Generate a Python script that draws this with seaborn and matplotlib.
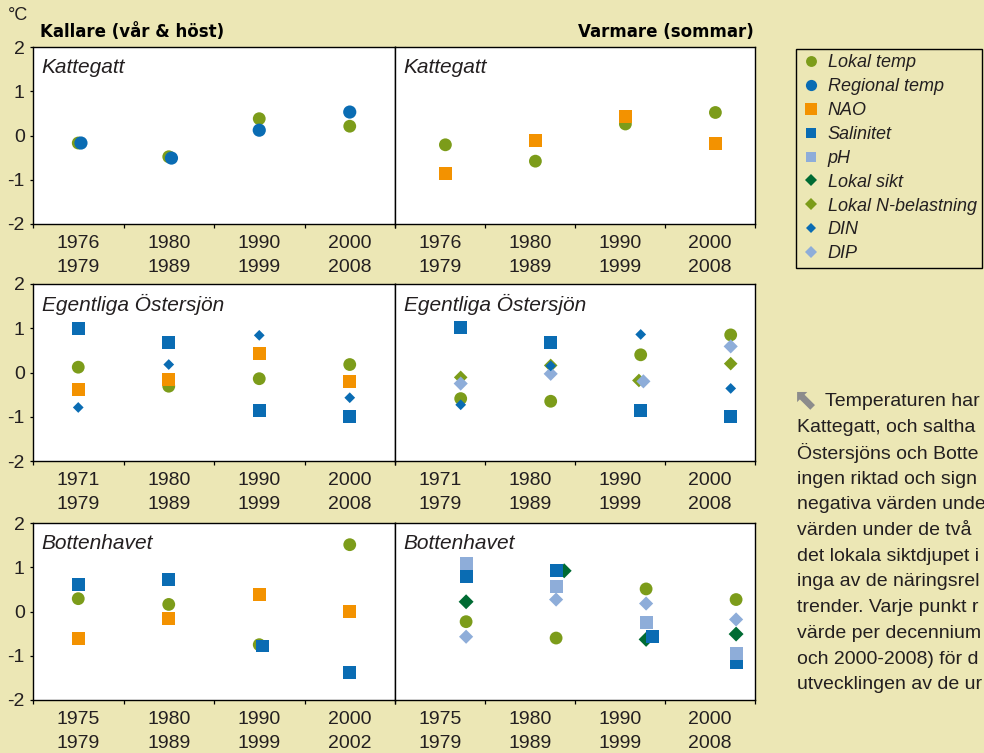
import numpy as np
import pandas as pd
import matplotlib
matplotlib.use("Agg")
import matplotlib.pyplot as plt
from matplotlib.lines import Line2D
import seaborn as sns

# ------------------------------------------------------------------
# data
# ------------------------------------------------------------------
KAT_PERIODS = ["1976\n1979", "1980\n1989", "1990\n1999", "2000\n2008"]
EGO_PERIODS = ["1971\n1979", "1980\n1989", "1990\n1999", "2000\n2008"]
BOT_KALL_PERIODS = ["1975\n1979", "1980\n1989", "1990\n1999", "2000\n2002"]
BOT_VARM_PERIODS = ["1975\n1979", "1980\n1989", "1990\n1999", "2000\n2008"]

# Kattegatt, kallare
KAT_KALL_LOKAL_TEMP = [-0.17, -0.48, 0.38, 0.21]
KAT_KALL_REGIONAL_TEMP = [-0.17, -0.51, 0.12, 0.53]
# Kattegatt, varmare
KAT_VARM_LOKAL_TEMP = [-0.21, -0.58, 0.26, 0.52]
KAT_VARM_NAO = [-0.85, -0.11, 0.44, -0.17]
# Egentliga Östersjön, kallare
EGO_KALL_LOKAL_TEMP = [0.12, -0.31, -0.14, 0.18]
EGO_KALL_NAO = [-0.38, -0.16, 0.42, -0.21]
EGO_KALL_SALINITET = [0.99, 0.68, -0.86, -0.99]
EGO_KALL_DIN = [-0.79, 0.18, 0.84, -0.57]
# Egentliga Östersjön, varmare
EGO_VARM_LOKAL_TEMP = [-0.59, -0.65, 0.40, 0.85]
EGO_VARM_SALINITET = [1.02, 0.68, -0.86, -0.99]
EGO_VARM_N_BELASTNING = [-0.11, 0.16, -0.18, 0.20]
EGO_VARM_DIN = [-0.73, 0.15, 0.86, -0.36]
EGO_VARM_DIP = [-0.25, -0.03, -0.20, 0.59]
# Bottenhavet, kallare
BOT_KALL_LOKAL_TEMP = [0.29, 0.16, -0.75, 1.51]
BOT_KALL_NAO = [-0.60, -0.15, 0.39, 0.00]
BOT_KALL_SALINITET = [0.61, 0.72, -0.78, -1.38]
# Bottenhavet, varmare
BOT_VARM_LOKAL_TEMP = [-0.23, -0.60, 0.51, 0.27]
BOT_VARM_SALINITET = [0.80, 0.93, -0.57, -1.15]
BOT_VARM_PH = [1.08, 0.57, -0.24, -0.94]
BOT_VARM_LOKAL_SIKT = [0.22, 0.92, -0.63, -0.51]
BOT_VARM_DIP = [-0.57, 0.27, 0.18, -0.18]

# caption on the right, cut by the page edge in the original
INFO_LINES = [
    "Temperaturen har",
    "Kattegatt, och saltha",
    "Östersjöns och Botte",
    "ingen riktad och sign",
    "negativa värden unde",
    "värden under de två",
    "det lokala siktdjupet i",
    "inga av de näringsrel",
    "trender. Varje punkt r",
    "värde per decennium",
    "och 2000-2008) för d",
    "utvecklingen av de ur",
]

# ------------------------------------------------------------------
# styles
# ------------------------------------------------------------------
BG = "#ECE7B5"
TXT = "#231F20"
GREEN = "#7C9C1A"
BLUE = "#0A6CB3"
ORANGE = "#F39200"
LIGHTBLUE = "#8EADD9"
DARKGREEN = "#006B33"

LEGEND_ORDER = ["Lokal temp", "Regional temp", "NAO", "Salinitet", "pH",
                "Lokal sikt", "Lokal N-belastning", "DIN", "DIP"]
# bottom -> top
DRAW_ORDER = ["Lokal temp", "Regional temp", "NAO", "Lokal sikt", "Lokal N-belastning",
              "Salinitet", "pH", "DIP", "DIN"]
COLORS = {"Lokal temp": GREEN, "Regional temp": BLUE, "NAO": ORANGE, "Salinitet": BLUE,
          "pH": LIGHTBLUE, "Lokal sikt": DARKGREEN, "Lokal N-belastning": GREEN,
          "DIN": BLUE, "DIP": LIGHTBLUE}
MARKERS = {"Lokal temp": "o", "Regional temp": "o", "NAO": "s", "Salinitet": "s", "pH": "s",
           "Lokal sikt": "D", "Lokal N-belastning": "D", "DIN": "D", "DIP": "D"}
SIZES = {"Lokal temp": 85, "Regional temp": 90, "NAO": 88, "Salinitet": 86, "pH": 86,
         "Lokal sikt": 58, "Lokal N-belastning": 48, "DIN": 30, "DIP": 52}

plt.rcParams["font.family"] = ["Liberation Sans", "DejaVu Sans"]
plt.rcParams["axes.unicode_minus"] = False
plt.rcParams["text.color"] = TXT

W, H = 984, 753
fig = plt.figure(figsize=(W / 100, H / 100), dpi=100, facecolor=BG)

COL_X = [(33, 362), (395, 360)]
ROW_TOP = [47, 284, 523]
AX_H = 177

# (row, col, title, periods, series, x shift, nudges)
PANELS = [
    (0, 0, "Kattegatt", KAT_PERIODS,
     {"Lokal temp": KAT_KALL_LOKAL_TEMP, "Regional temp": KAT_KALL_REGIONAL_TEMP}, 0.0,
     {("Regional temp", 0): 0.03, ("Regional temp", 1): 0.03}),
    (0, 1, "Kattegatt", KAT_PERIODS,
     {"Lokal temp": KAT_VARM_LOKAL_TEMP, "NAO": KAT_VARM_NAO}, 0.06, {}),
    (1, 0, "Egentliga Östersjön", EGO_PERIODS,
     {"Lokal temp": EGO_KALL_LOKAL_TEMP, "NAO": EGO_KALL_NAO,
      "Salinitet": EGO_KALL_SALINITET, "DIN": EGO_KALL_DIN}, 0.0, {}),
    (1, 1, "Egentliga Östersjön", EGO_PERIODS,
     {"Lokal temp": EGO_VARM_LOKAL_TEMP, "Salinitet": EGO_VARM_SALINITET,
      "Lokal N-belastning": EGO_VARM_N_BELASTNING, "DIN": EGO_VARM_DIN,
      "DIP": EGO_VARM_DIP}, 0.23,
     {("Lokal N-belastning", 2): -0.02, ("DIP", 2): 0.03}),
    (2, 0, "Bottenhavet", BOT_KALL_PERIODS,
     {"Lokal temp": BOT_KALL_LOKAL_TEMP, "NAO": BOT_KALL_NAO,
      "Salinitet": BOT_KALL_SALINITET}, 0.0, {("Salinitet", 2): 0.04}),
    (2, 1, "Bottenhavet", BOT_VARM_PERIODS,
     {"Lokal temp": BOT_VARM_LOKAL_TEMP, "Salinitet": BOT_VARM_SALINITET,
      "pH": BOT_VARM_PH, "Lokal sikt": BOT_VARM_LOKAL_SIKT, "DIP": BOT_VARM_DIP}, 0.29,
     {("Lokal sikt", 1): 0.09, ("Salinitet", 2): 0.07}),
]

for row, col, title, periods, series, shift, nudges in PANELS:
    x0, w = COL_X[col]
    ax = fig.add_axes([x0 / W, 1 - (ROW_TOP[row] + AX_H) / H, w / W, AX_H / H])
    ax.set_facecolor("white")

    rows = []
    for name in DRAW_ORDER:
        if name not in series:
            continue
        for i, v in enumerate(series[name]):
            rows.append({"serie": name, "x": i + shift + nudges.get((name, i), 0.0), "value": v})
    df = pd.DataFrame(rows)
    present = [n for n in DRAW_ORDER if n in series]
    sns.scatterplot(data=df, x="x", y="value", hue="serie", style="serie", size="serie",
                    hue_order=present, style_order=present, size_order=present,
                    palette=COLORS, markers=MARKERS, sizes=SIZES,
                    linewidth=0, edgecolor="none", legend=False, ax=ax, zorder=3)

    ax.set_xlim(-0.5, 3.5)
    ax.set_ylim(-2, 2)
    ax.set_xlabel("")
    ax.set_ylabel("")
    ax.set_xticks(range(4))
    ax.set_xticklabels(periods, fontsize=14, color=TXT, linespacing=1.5)
    ax.set_xticks(np.arange(-0.5, 4, 1), minor=True)
    ax.tick_params(axis="x", which="major", length=0, pad=8)
    ax.tick_params(axis="x", which="minor", length=3, width=0.9, direction="out", color="black")
    ax.set_yticks([-2, -1, 0, 1, 2])
    if col == 0:
        ax.set_yticklabels(["-2", "-1", "0", "1", "2"], fontsize=14, color=TXT)
        ax.tick_params(axis="y", length=2.5, width=0.9, pad=3.5, direction="out", color="black")
    else:
        ax.tick_params(axis="y", left=False, labelleft=False)
    for sp in ax.spines.values():
        sp.set_color("black")
        sp.set_linewidth(1.0)
    ax.text(0.024, 0.885, title, transform=ax.transAxes, fontsize=15, style="italic",
            va="center", ha="left", color=TXT)

# headings
fig.text(8 / W, 1 - 15 / H, "°C", fontsize=13, va="center", ha="left", color=TXT)
fig.text(40 / W, 1 - 32 / H, "Kallare (vår & höst)", fontsize=12, fontweight="bold",
         family=["DejaVu Sans"], va="center", ha="left", color="black")
fig.text(754 / W, 1 - 32 / H, "Varmare (sommar)", fontsize=12, fontweight="bold",
         family=["DejaVu Sans"], va="center", ha="right", color="black")

# legend
handles = [Line2D([], [], linestyle="none", marker=MARKERS[n], color=COLORS[n],
                  markeredgewidth=0, markersize=np.sqrt(SIZES[n]) * 0.85)
           for n in LEGEND_ORDER]
leg = fig.legend(handles, LEGEND_ORDER, loc="upper left",
                 bbox_to_anchor=(796 / W, 1 - 49 / H), bbox_transform=fig.transFigure,
                 frameon=True, fancybox=False, framealpha=1, facecolor=BG, edgecolor="black",
                 borderpad=0.3, handlelength=1.1, handletextpad=0.35, labelspacing=0.38,
                 borderaxespad=0, prop={"style": "italic", "size": 13})
leg.get_frame().set_linewidth(1.0)

# caption text
fig.text(793 / W, 1 - 400 / H, "\u2b09", fontsize=21, color="#8C8C8C",
         family=["DejaVu Sans"], va="center", ha="left")
for i, line in enumerate(INFO_LINES):
    x = 825 if i == 0 else 797
    fig.text(x / W, 1 - (402 + i * 25.7) / H, line, fontsize=14, va="center", ha="left",
             color=TXT)

fig.savefig("out.png", dpi=100, facecolor=BG)
